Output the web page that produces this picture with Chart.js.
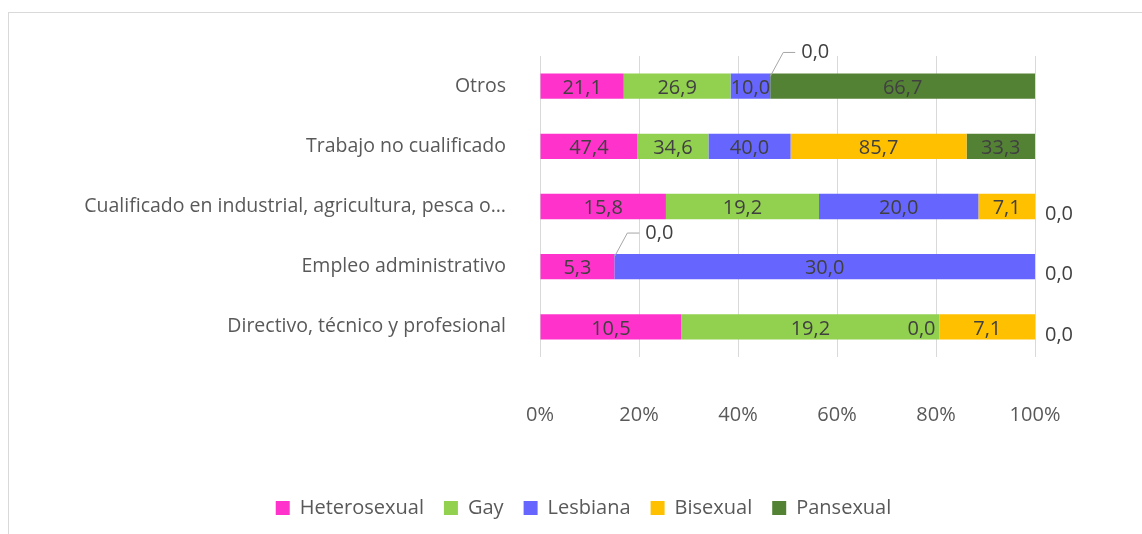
<!DOCTYPE html>
<html>
<head>
<meta charset="utf-8">
<script src="https://cdn.jsdelivr.net/npm/chart.js@4"></script>
<style>
  html, body { margin: 0; padding: 0; background: #fff; overflow: hidden; }
  #wrap { position: relative; width: 1142px; height: 534px; }
  #frame { position: absolute; left: 8px; top: 12px; width: 1200px; height: 600px; border: 1px solid #d9d9d9; }
  #chart { position: absolute; left: 0; top: 0; }
</style>
</head>
<body>
<div id="wrap">
  <div id="frame"></div>
  <canvas id="chart" width="1142" height="534"></canvas>
</div>
<script>
'use strict';

// Categories (top to bottom)
const categories = [
  'Otros',
  'Trabajo no cualificado',
  'Cualificado en industrial, agricultura, pesca o…',
  'Empleo administrativo',
  'Directivo, técnico y profesional'
];

// Series values (percent by group)
const heterosexual = [21.1, 47.4, 15.8, 5.3, 10.5];
const gay = [26.9, 34.6, 19.2, 0.0, 19.2];
const lesbiana = [10.0, 40.0, 20.0, 30.0, 0.0];
const bisexual = [0.0, 85.7, 7.1, 0.0, 7.1];
const pansexual = [66.7, 33.3, 0.0, 0.0, 0.0];

const seriesNames = ['Heterosexual', 'Gay', 'Lesbiana', 'Bisexual', 'Pansexual'];
const seriesValues = [heterosexual, gay, lesbiana, bisexual, pansexual];
const seriesColors = ['#FF33CC', '#92D050', '#6666FF', '#FFC000', '#548235'];

const xTicks = [0, 20, 40, 60, 80, 100];

// Color Variables
const labelColor = '#595959',
  valueColor = '#404040',
  gridColor = '#d9d9d9',
  fontFamily = '"Open Sans", Lato, sans-serif';

// 100% stacked: share of each series inside its row
const rowTotals = categories.map(function (c, j) {
  return seriesValues.reduce(function (s, arr) { return s + arr[j]; }, 0);
});
const shares = seriesValues.map(function (arr) {
  return arr.map(function (v, j) { return rowTotals[j] ? (v / rowTotals[j]) * 100 : 0; });
});

function fmt(v) {
  return v.toFixed(1).replace('.', ',');
}

// Value labels drawn on the bars
const valueLabels = {
  id: 'valueLabels',
  afterLayout(chart) {
    // legend sits a little right of centre, as in the original
    chart.legend.left += 56;
    chart.legend.right += 56;
  },
  afterDatasetsDraw(chart) {
    const ctx = chart.ctx;
    const area = chart.chartArea;
    const rightDone = {};
    ctx.save();
    ctx.font = '20px ' + fontFamily;
    ctx.fillStyle = valueColor;
    ctx.textBaseline = 'middle';
    seriesValues.forEach(function (arr, i) {
      const meta = chart.getDatasetMeta(i);
      meta.data.forEach(function (el, j) {
        const raw = arr[j];
        const txt = fmt(raw);
        const h = el.height;
        if (raw > 0) {
          ctx.textAlign = 'center';
          ctx.fillText(txt, (el.x + el.base) / 2, el.y + 2);
          return;
        }
        // zero values
        if (el.x >= area.right - 1) {
          if (rightDone[j]) return;
          rightDone[j] = true;
          ctx.textAlign = 'left';
          ctx.fillText(txt, area.right + 10, el.y + 8);
          return;
        }
        let prevWidth = 0;
        for (let k = i - 1; k >= 0; k--) {
          const p = chart.getDatasetMeta(k).data[j];
          if (seriesValues[k][j] > 0) { prevWidth = p.x - p.base; break; }
        }
        if (prevWidth > 120) {
          ctx.textAlign = 'right';
          ctx.fillText(txt, el.x - 4, el.y + 2);
        } else {
          const x0 = el.x, y0 = el.y - h / 2 + 3;
          const x1 = x0 + 13, y1 = y0 - 24;
          ctx.strokeStyle = '#a6a6a6';
          ctx.lineWidth = 1;
          ctx.beginPath();
          ctx.moveTo(x0, y0);
          ctx.lineTo(x1, y1);
          ctx.lineTo(x1 + 12, y1);
          ctx.stroke();
          ctx.textAlign = 'left';
          ctx.fillText(txt, x1 + 18, y1);
        }
      });
    });
    ctx.restore();
  }
};

const chartEl = document.getElementById('chart');
new Chart(chartEl, {
  type: 'bar',
  data: {
    labels: categories,
    datasets: seriesNames.map(function (name, i) {
      return {
        label: name,
        data: shares[i],
        backgroundColor: seriesColors[i],
        borderWidth: 0,
        barPercentage: 0.42,
        categoryPercentage: 1
      };
    })
  },
  options: {
    indexAxis: 'y',
    responsive: false,
    animation: false,
    layout: {
      padding: { top: 56, right: 107, bottom: 6, left: 20 }
    },
    plugins: {
      legend: {
        position: 'bottom',
        labels: {
          color: labelColor,
          font: { family: fontFamily, size: 20 },
          boxWidth: 14,
          boxHeight: 14,
          padding: 20
        }
      },
      tooltip: { enabled: false }
    },
    scales: {
      x: {
        stacked: true,
        min: 0,
        max: 100,
        afterBuildTicks: function (scale) {
          scale.ticks = xTicks.map(function (v) { return { value: v }; });
        },
        afterFit: function (scale) {
          scale.height = 121;
        },
        grid: {
          color: gridColor,
          drawTicks: false
        },
        border: { display: false },
        ticks: {
          color: labelColor,
          padding: 46,
          font: { family: fontFamily, size: 20 },
          callback: function (v) { return v + '%'; }
        }
      },
      y: {
        stacked: true,
        afterFit: function (scale) {
          scale.width = 520;
        },
        grid: { display: false },
        border: { display: false },
        ticks: {
          color: labelColor,
          padding: 26,
          font: { family: fontFamily, size: 19.5 }
        }
      }
    }
  },
  plugins: [valueLabels]
});
</script>
</body>
</html>
